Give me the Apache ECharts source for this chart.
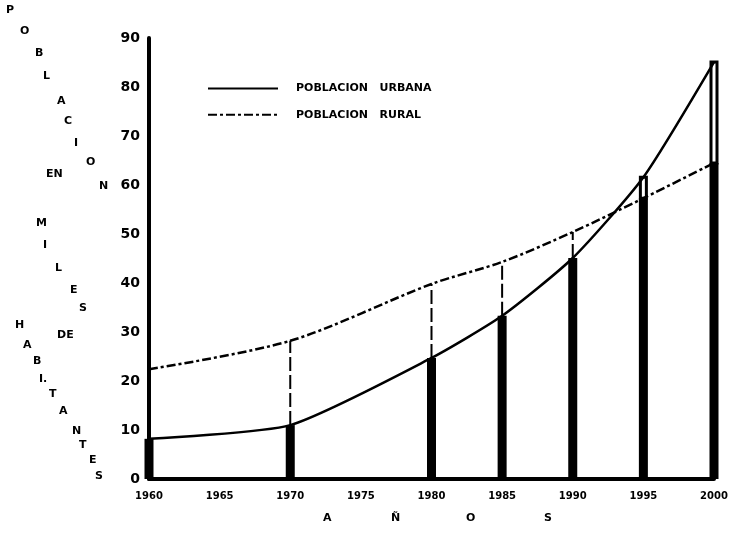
<!DOCTYPE html>
<html>
<head>
<meta charset="utf-8">
<script src="https://cdn.jsdelivr.net/npm/echarts@6/dist/echarts.min.js"></script>
<style>
html,body{margin:0;padding:0;background:#fff;}
#c{width:741px;height:551px;}
</style>
</head>
<body>
<div id="c"></div>
<script>
// ---- data ----
const years = [1960, 1970, 1980, 1985, 1990, 1995, 2000];
const urbana = [8.2, 11.0, 24.7, 33.3, 45.1, 61.6, 85.1];
const rural = [22.4, 28.2, 39.8, 44.3, 50.4, 57.3, 64.5];
const xMin = 1960, xMax = 2000, xStep = 5;
const yMin = 0, yMax = 90, yStep = 10;
const nameUrbana = 'POBLACION   URBANA';
const nameRural = 'POBLACION   RURAL';

// axis title letters (text only)
const yTitleLetters = [
  ['P',10,12],['O',24,33],['B',39,55],['L',47,78],['A',61,103],['C',68,123],['I',78,145],['O',90,164],['N',103,188],
  ['EN',50,176],
  ['M',40,225],['I',47,247],['L',59,270],['E',74,292],['S',83,310],
  ['DE',61,337],
  ['H',19,327],['A',27,347],['B',37,363],['I.',43,381],['T',53,396],['A',63,413],['N',76,433],['T',83,447],['E',93,462],['S',99,478]
];
const xTitleLetters = [['A',327,520],['Ñ',395,520],['O',470,520],['S',548,520]];

const barData = years.map((y,i)=>[y, urbana[i], rural[i]]);

const font = 'DejaVu Sans';
const chart = echarts.init(document.getElementById('c'), null, {renderer:'canvas'});

const graphics = [];
yTitleLetters.forEach(([t,x,y])=>graphics.push({type:'text', left:x-4, top:y-7, style:{text:t, font:'bold 11px "DejaVu Sans"', fill:'#000'}}));
xTitleLetters.forEach(([t,x,y])=>graphics.push({type:'text', left:x-4, top:y-7, style:{text:t, font:'bold 11px "DejaVu Sans"', fill:'#000'}}));

const BW = 9;
chart.setOption({
  animation:false,
  backgroundColor:'#fff',
  grid:{left:149, right:27, top:38, bottom:72, containLabel:false},
  legend:{
    orient:'vertical', left:202, top:78, itemWidth:70, itemHeight:14, itemGap:15,
    data:[nameUrbana, nameRural],
    itemStyle:{opacity:0},
    textStyle:{fontFamily:font, fontWeight:'bold', fontSize:11, color:'#000', padding:[0,0,0,13]}
  },
  xAxis:{
    type:'value', min:xMin, max:xMax, interval:xStep,
    axisLine:{show:true, lineStyle:{color:'#000', width:4}},
    axisTick:{show:false}, splitLine:{show:false},
    axisLabel:{color:'#000', fontFamily:font, fontWeight:'bold', fontSize:10, margin:12, formatter:v=>String(v)}
  },
  yAxis:{
    type:'value', min:yMin, max:yMax, interval:yStep,
    axisLine:{show:true, lineStyle:{color:'#000', width:4}},
    axisTick:{show:false}, splitLine:{show:false},
    axisLabel:{color:'#000', fontFamily:font, fontWeight:'bold', fontSize:14, margin:9}
  },
  graphic:graphics,
  series:[
    {type:'custom', data:barData, z:2, silent:true,
      renderItem:(params, api)=>{
        const x = api.value(0), u = api.value(1), r = api.value(2);
        const lo = Math.min(u,r), hi = Math.max(u,r);
        const p0 = api.coord([x,0]), pl = api.coord([x,lo]), ph = api.coord([x,hi]);
        const children = [
          {type:'rect', shape:{x:p0[0]-BW/2, y:pl[1], width:BW, height:p0[1]-pl[1]}, style:{fill:'#000'}}
        ];
        if (u > r) {
          children.push({type:'rect', shape:{x:ph[0]-BW/2+1.5, y:ph[1], width:BW-3, height:pl[1]-ph[1]},
            style:{fill:'#fff', stroke:'#000', lineWidth:3}});
        } else {
          children.push({type:'line', shape:{x1:pl[0], y1:pl[1], x2:ph[0], y2:ph[1]},
            style:{stroke:'#000', lineWidth:2, lineDash:[14,4]}});
        }
        return {type:'group', children};
      }},
    {name:nameUrbana, type:'line', data:years.map((y,i)=>[y,urbana[i]]), smooth:0.2, symbol:'none',
      lineStyle:{color:'#000', width:2.5}, itemStyle:{color:'#000'}, z:3},
    {name:nameRural, type:'line', data:years.map((y,i)=>[y,rural[i]]), smooth:0.3, symbol:'none',
      lineStyle:{color:'#000', width:2.5, type:[9,3,3,3]}, itemStyle:{color:'#000'}, z:3}
  ]
});
</script>
</body>
</html>
